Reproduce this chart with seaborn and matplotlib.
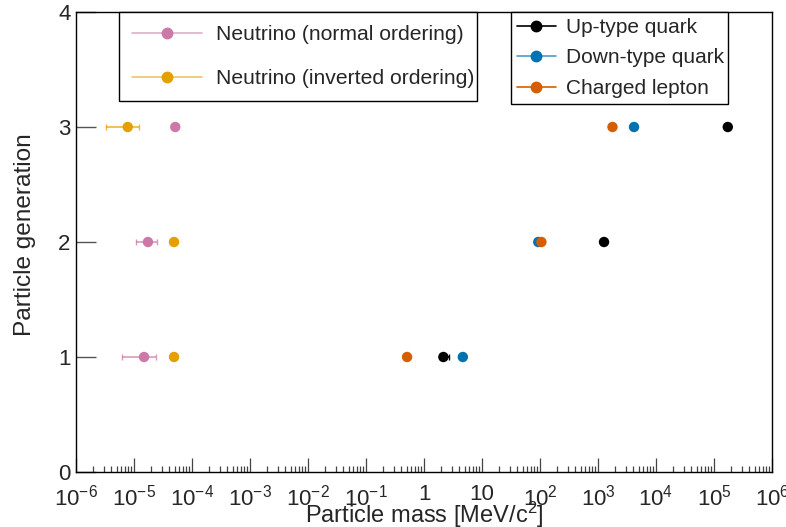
import numpy as np
import pandas as pd
import matplotlib
matplotlib.use("Agg")
import matplotlib.pyplot as plt
from matplotlib.lines import Line2D
import seaborn as sns

# ---- data (masses in MeV/c^2) ----
generations = [1, 2, 3]
up_mass = [2.16, 1270.0, 172760.0]
up_err_lo = [0.26, 20.0, 300.0]
up_err_hi = [0.49, 20.0, 300.0]
down_mass = [4.67, 93.4, 4180.0]
lepton_mass = [0.511, 105.66, 1776.86]
nu_normal_mass = [1.49e-5, 1.74e-5, 5.15e-5]
nu_normal_lo = [6.1e-6, 1.08e-5, 5.15e-5]
nu_normal_hi = [2.37e-5, 2.46e-5, 5.15e-5]
nu_inverted_mass = [4.9e-5, 4.9e-5, 7.8e-6]
nu_inverted_lo = [4.9e-5, 4.9e-5, 3.25e-6]
nu_inverted_hi = [4.9e-5, 4.9e-5, 1.23e-5]
xtick_values = [1e-6, 1e-5, 1e-4, 1e-3, 1e-2, 1e-1, 1, 10, 1e2, 1e3, 1e4, 1e5, 1e6]
xtick_labels = [r"$10^{-6}$", r"$10^{-5}$", r"$10^{-4}$", r"$10^{-3}$", r"$10^{-2}$",
                r"$10^{-1}$", "1", "10", r"$10^{2}$", r"$10^{3}$", r"$10^{4}$",
                r"$10^{5}$", r"$10^{6}$"]
ytick_values = [0, 1, 2, 3, 4]

C_PINK = "#CC79A7"
C_ORANGE = "#E69F00"
C_BLUE = "#0072B2"
C_VERM = "#D55E00"
C_BLACK = "#000000"

sns.set_style("white")
plt.rcParams["font.family"] = ["Liberation Sans", "DejaVu Sans"]
plt.rcParams["mathtext.fontset"] = "custom"
plt.rcParams["mathtext.rm"] = "Liberation Sans"
plt.rcParams["mathtext.it"] = "Liberation Sans:italic"
plt.rcParams["mathtext.bf"] = "Liberation Sans:bold"

fig = plt.figure(figsize=(7.86, 5.27), dpi=100)
W, H = 786, 527
ax = fig.add_axes([76 / W, (H - 472) / H, 696 / W, 460 / H])

ms = 7.5

def draw_err(mass, lo, hi, color):
    mass = np.asarray(mass); lo = np.asarray(lo); hi = np.asarray(hi)
    ax.errorbar(mass, generations, xerr=[mass - lo, hi - mass], fmt="none",
                ecolor=color, elinewidth=1.2, capsize=2.5, capthick=1.0, alpha=0.75, zorder=2)

draw_err(nu_normal_mass, nu_normal_lo, nu_normal_hi, C_PINK)
draw_err(nu_inverted_mass, nu_inverted_lo, nu_inverted_hi, C_ORANGE)
up = np.asarray(up_mass)
ax.errorbar(up, generations, xerr=[up_err_lo, up_err_hi], fmt="none",
            ecolor=C_BLACK, elinewidth=1.2, capsize=2.5, zorder=2)

df = pd.concat([
    pd.DataFrame({"mass": nu_normal_mass, "gen": generations, "s": "nn"}),
    pd.DataFrame({"mass": nu_inverted_mass, "gen": generations, "s": "ni"}),
    pd.DataFrame({"mass": up_mass, "gen": generations, "s": "up"}),
    pd.DataFrame({"mass": down_mass, "gen": generations, "s": "down"}),
    pd.DataFrame({"mass": lepton_mass, "gen": generations, "s": "lep"}),
])
palette = {"nn": C_PINK, "ni": C_ORANGE, "up": C_BLACK, "down": C_BLUE, "lep": C_VERM}
for key in ["nn", "ni", "up", "down", "lep"]:
    sub = df[df["s"] == key]
    sns.scatterplot(data=sub, x="mass", y="gen", color=palette[key], s=ms ** 2,
                    edgecolor="none", linewidth=0, ax=ax, zorder=3, legend=False)

ax.set_xscale("log")
ax.set_xlim(1e-6, 1e6)
ax.set_ylim(0, 4)
ax.set_xticks(xtick_values)
ax.set_xticklabels(xtick_labels)
ax.xaxis.set_minor_locator(matplotlib.ticker.LogLocator(base=10, subs=np.arange(2, 10), numticks=100))
ax.xaxis.set_minor_formatter(matplotlib.ticker.NullFormatter())
ax.set_yticks(ytick_values)
ax.set_yticklabels([str(v) for v in ytick_values])

ax.tick_params(axis="x", which="major", direction="in", length=10, width=0.9,
               color="#444444", labelsize=16, pad=9, top=False, bottom=True)
ax.tick_params(axis="x", which="minor", direction="in", length=4.5, width=0.9,
               color="#444444", top=False, bottom=True)
ax.tick_params(axis="y", which="major", direction="in", length=14.4, width=1.0,
               color="#555555", labelsize=16, pad=4, left=True, right=False)
ax.tick_params(axis="y", which="minor", left=False, right=False)
for sp in ax.spines.values():
    sp.set_color("black")
    sp.set_linewidth(1.0)

ax.set_xlabel(r"Particle mass [MeV/c$^{2}$]", fontsize=17)
ax.set_ylabel("Particle generation", fontsize=17.6)
ax.xaxis.set_label_coords(0.5, -(500 - 472) / 460)
ax.yaxis.set_label_coords((36 - 76) / 696, (472 - 235) / 460)

# legends
h_nu = [
    Line2D([], [], color=matplotlib.colors.to_rgba(C_PINK, 0.6), lw=1.2, marker="o", ms=ms,
           mfc=C_PINK, mec=C_PINK),
    Line2D([], [], color=matplotlib.colors.to_rgba(C_ORANGE, 0.6), lw=1.2, marker="o", ms=ms,
           mfc=C_ORANGE, mec=C_ORANGE),
]
leg1 = fig.legend(h_nu, ["Neutrino (normal ordering)", "Neutrino (inverted ordering)"],
                  loc="upper left", bbox_to_anchor=(119 / W, 1 - 100 / H, 358 / W, 88 / H),
                  bbox_transform=fig.transFigure, mode="expand", borderaxespad=0,
                  fontsize=15.2, frameon=True, fancybox=False, edgecolor="black",
                  framealpha=1, handlelength=3.3, handletextpad=0.66, labelspacing=1.18,
                  borderpad=0.62)
leg1.get_frame().set_linewidth(1.0)

h_q = [
    Line2D([], [], color=C_BLACK, lw=1.2, marker="o", ms=ms, mfc=C_BLACK, mec=C_BLACK),
    Line2D([], [], color=matplotlib.colors.to_rgba(C_BLUE, 0.7), lw=1.2, marker="o", ms=ms,
           mfc=C_BLUE, mec=C_BLUE),
    Line2D([], [], color=C_VERM, lw=1.2, marker="o", ms=ms, mfc=C_VERM, mec=C_VERM),
]
leg2 = fig.legend(h_q, ["Up-type quark", "Down-type quark", "Charged lepton"],
                  loc="upper left", bbox_to_anchor=(511 / W, 1 - 100 / H, 217 / W, 88 / H),
                  bbox_transform=fig.transFigure, mode="expand", borderaxespad=0,
                  fontsize=15.0, frameon=True, fancybox=False, edgecolor="black",
                  framealpha=1, handlelength=1.85, handletextpad=0.5, labelspacing=0.55,
                  borderpad=0.29)
leg2.get_frame().set_linewidth(1.0)

fig.savefig("out.png", dpi=100)
